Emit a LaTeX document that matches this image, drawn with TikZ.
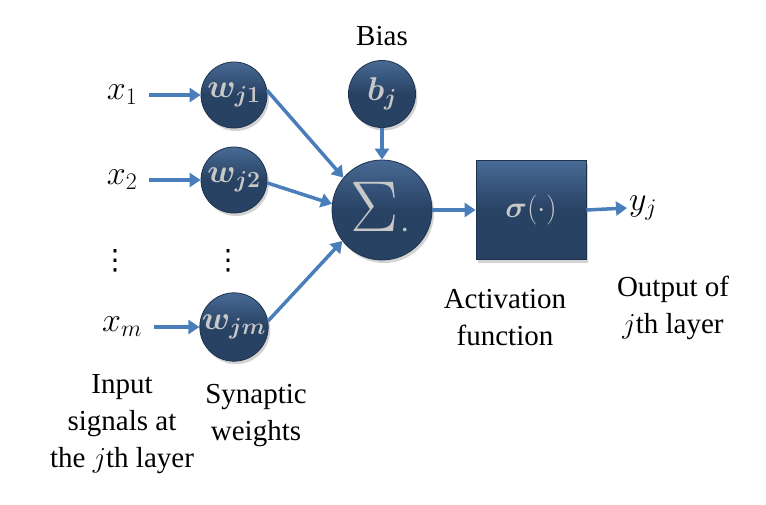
\RequirePackage{fix-cm}
\documentclass[tikz,border=0pt]{standalone}
\usepackage{amsmath}
\usepackage{bm}
\usepackage{fontspec}
\setmainfont{Liberation Serif}
\newfontfamily\dvsans{DejaVu Sans}
\usetikzlibrary{arrows.meta,shadows,positioning}
\definecolor{nodeblue}{RGB}{40,66,100}
\definecolor{nodeedge}{RGB}{30,50,78}
\definecolor{nodehi}{RGB}{72,106,148}
\definecolor{arrowblue}{RGB}{74,126,187}
\definecolor{nodetext}{RGB}{200,200,200}
\tikzset{
  neuron/.style={circle, minimum size=#1, inner sep=0pt, draw=nodeedge, line width=0.8pt,
    top color=nodehi, bottom color=nodeblue, middle color=nodeblue, shading angle=0,
    drop shadow={opacity=0.35, shadow xshift=2pt, shadow yshift=-3pt},
    text=nodetext, font=\fontsize{33}{36}\selectfont},
  actbox/.style={rectangle, minimum width=110pt, minimum height=99pt, inner sep=0pt,
    draw=nodeedge, line width=0.8pt, top color=nodehi, bottom color=nodeblue, middle color=nodeblue,
    drop shadow={opacity=0.35, shadow xshift=2pt, shadow yshift=-3pt},
    text=nodetext, font=\fontsize{30}{34}\selectfont},
  lbl/.style={align=center, font=\fontsize{29}{37}\selectfont, inner sep=0pt},
  var/.style={font=\fontsize{34}{38}\selectfont, inner sep=2pt},
  vdt/.style={font=\dvsans\fontsize{28}{28}\selectfont, inner sep=0pt},
  arr/.style={draw=arrowblue, line width=3.5pt, -{Triangle[length=11pt,width=14pt]}, fill=arrowblue}
}
\begin{document}
\begin{tikzpicture}[x=1pt,y=-1pt]
\useasboundingbox (0,0) rectangle (766,504);
% inputs
\node[var] (x1) at (122,95) {$x_1$};
\node[var] (x2) at (122,180) {$x_2$};
\node[vdt] (xd) at (115,261) {⋮};
\node[var] (xm) at (122,327) {$x_m$};
% weights
\node[neuron=66pt] (w1) at (234,95) {$\bm{w}_{\bm{j1}}$};
\node[neuron=66pt] (w2) at (234,180) {$\bm{w}_{\bm{j2}}$};
\node[vdt] (wd) at (228,261) {⋮};
\node[neuron=66pt] (wm) at (234,327) {$\bm{w}_{\bm{jm}}$};
% bias
\node[lbl] (biaslbl) at (382,36) {Bias};
\node[neuron=67pt] (b) at (382,94) {$\bm{b}_{\bm{j}}$};
% summation
\node[neuron=100pt, font=\fontsize{72}{72}\selectfont] (sum) at (382,210) {\hspace{-4pt}\raisebox{-3pt}{$\Sigma$}\hspace{2pt}{\fontsize{34}{34}\selectfont\raisebox{-10pt}{$\cdot$}}};
% activation
\node[actbox] (act) at (531,210) {$\bm{\sigma}(\cdot)$};
\node[var, anchor=west] (y) at (627,208) {$y_j$};
% labels
\node[lbl] (actlbl) at (505,318) {Activation\\function};
\node[lbl] (outlbl) at (673,308) {Output of\\$j$th layer};
\node[lbl] (synlbl) at (256,416) {Synaptic\\weights};
\node[lbl] (inlbl) at (122,424) {Input\\signals at\\the $j$th layer};
% arrows
\draw[arr, shorten <=10pt] (x1) -- (w1);
\draw[arr, shorten <=10pt] (x2) -- (w2);
\draw[arr, shorten <=10pt] (xm) -- (wm);
\draw[arr] (w1.8) -- (sum.140);
\draw[arr] (w2.-5) -- (sum.173);
\draw[arr] (wm.10) -- (sum.-142);
\draw[arr] (b.south) -- (sum.north);
\draw[arr] (sum) -- (act);
\draw[arr] (act.east) -- (y.west);
\end{tikzpicture}
\end{document}
